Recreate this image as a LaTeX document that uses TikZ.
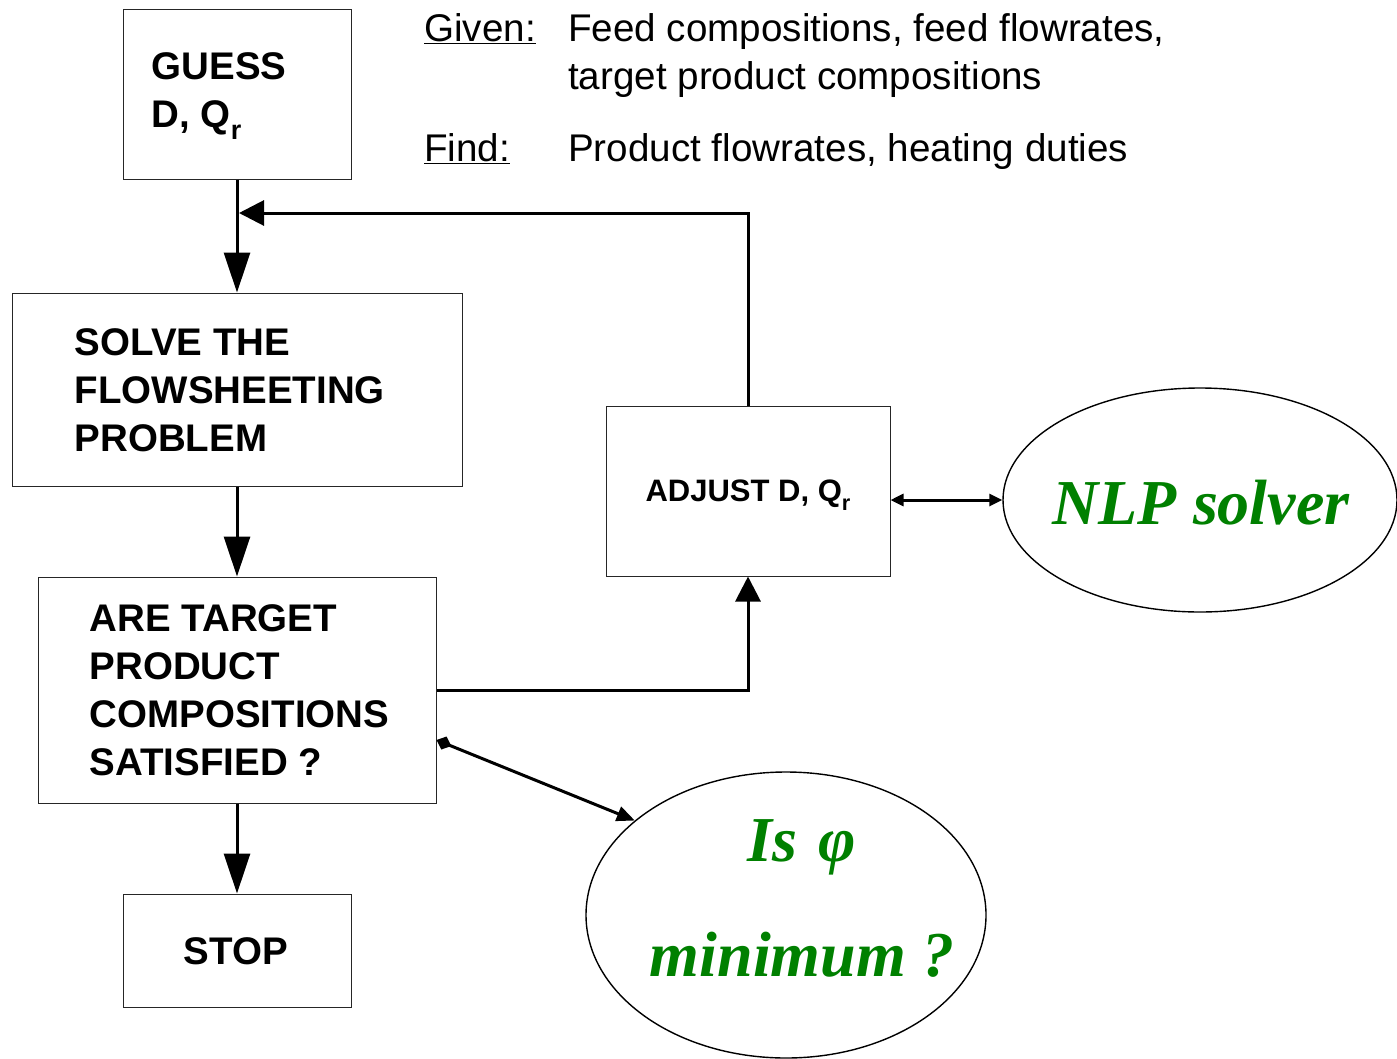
\documentclass[tikz,border=0pt]{standalone}
\usepackage{fontspec}
\setmainfont{Liberation Sans}
\newfontfamily\timesfont{Liberation Serif}
\usetikzlibrary{arrows.meta,shapes.geometric}
\definecolor{solvergreen}{RGB}{0,128,0}
\newcommand{\lowr}{\raisebox{-0.3em}{\scalebox{0.7}{r}}}
\begin{document}
\begin{tikzpicture}[x=1pt,y=-1pt,
  box/.style={draw=black!85,line width=1pt,inner sep=0pt,fill=white},
  boxtxt/.style={inner sep=0pt,align=left,font=\fontsize{38.5}{48}\selectfont\bfseries},
  plain/.style={inner sep=0pt,align=left,font=\fontsize{38.6}{48}\selectfont},
  oval/.style={draw=black,line width=1.4pt,ellipse,inner sep=0pt},
  greentxt/.style={inner sep=0pt,align=center,text=solvergreen,
    font=\fontsize{64}{115}\selectfont\timesfont\bfseries\itshape},
  conn/.style={draw=black,line width=3pt},
  bighead/.style={conn,-{Triangle[length=40pt,width=26pt]}},
  midhead/.style={conn,-{Triangle[length=25pt,width=25pt]}},
  twoway/.style={conn,{Triangle[length=13pt,width=12pt]}-{Triangle[length=13pt,width=12pt]}},
  diaghead/.style={conn,{Diamond[length=16pt,width=14pt]}-{Triangle[length=18pt,width=15pt]}}
]
\useasboundingbox (0,0) rectangle (1397,1058);

% process boxes
\node[box,minimum width=228pt,minimum height=170pt] (guess) at (237,94) {};
\node[boxtxt,anchor=west] at ([xshift=29pt,yshift=-2pt]guess.west) {GUESS\\D, Q\lowr};

\node[box,minimum width=450pt,minimum height=193pt] (solve) at (237,389.5) {};
\node[boxtxt,anchor=west] at ([xshift=63pt,yshift=-1pt]solve.west) {SOLVE THE\\FLOWSHEETING\\PROBLEM};

\node[box,minimum width=398pt,minimum height=226pt] (are) at (237,690) {};
\node[boxtxt,anchor=west] at ([xshift=52pt]are.west) {ARE TARGET\\PRODUCT\\COMPOSITIONS\\SATISFIED ?};

\node[box,minimum width=228pt,minimum height=113pt] (stop) at (237,950.5) {};
\node[boxtxt] at ([xshift=-1pt,yshift=-1pt]stop.center) {STOP};

\node[box,minimum width=284pt,minimum height=170pt] (adjust) at (748,491) {};
\node[boxtxt,font=\fontsize{31}{36}\selectfont\bfseries] at ([yshift=-4pt]adjust.center) {ADJUST D, Q\lowr};

% optimiser ellipses
\node[oval,minimum width=394pt,minimum height=224pt] (nlp) at (1200,500) {};
\node[greentxt] at ([xshift=1pt,yshift=-3pt]nlp.center) {NLP solver};

\node[oval,minimum width=400pt,minimum height=286pt] (isphi) at (786,915) {};
\node[greentxt] at (802,898) {Is\,\,φ\\minimum ?};

% problem statement
\node[plain,anchor=base west] (given) at (424,41) {\underline{Given:}};
\node[plain,anchor=base west] (giventxt) at (568,41) {Feed compositions, feed flowrates,};
\node[plain,anchor=base west] (giventxt2) at (568,89) {target product compositions};
\node[plain,anchor=base west] (find) at (424,161) {\underline{Find:}};
\node[plain,anchor=base west] (findtxt) at (568,161) {Product flowrates, heating duties};

% connectors
\coordinate (join) at (239,213);
\draw[bighead] (guess.south) -- (solve.north);
\draw[bighead] (solve.south) -- (are.north);
\draw[bighead] (are.south) -- (stop.north);
\draw[midhead] (adjust.north) |- (join);
\draw[midhead] (are.east) -| (adjust.south);
\draw[twoway] (adjust.east |- nlp.west) -- (nlp.west);
\draw[diaghead] ([yshift=-50pt]are.east) -- (isphi.148);
\end{tikzpicture}
\end{document}
